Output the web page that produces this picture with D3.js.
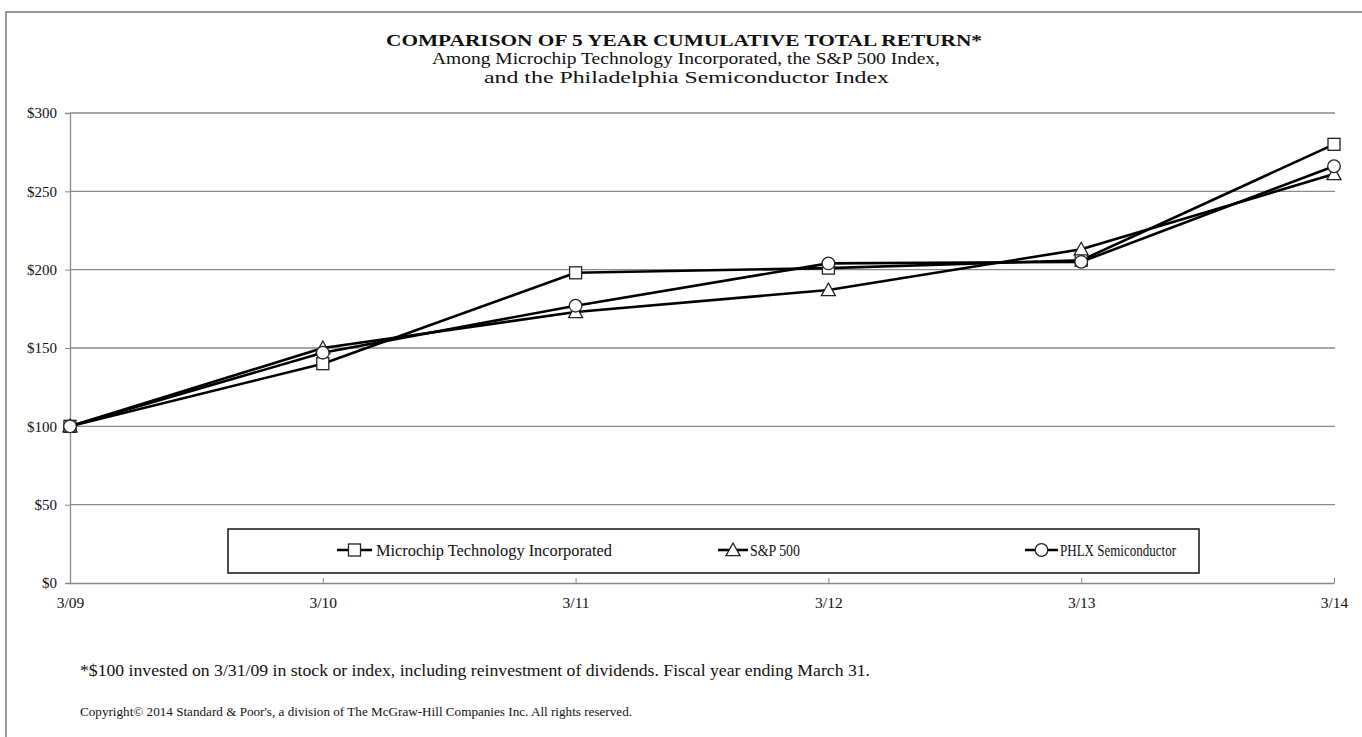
<!DOCTYPE html>
<html>
<head>
<meta charset="utf-8">
<script src="https://cdn.jsdelivr.net/npm/d3@7"></script>
<style>
  html, body { margin: 0; padding: 0; background: #fff; }
  svg { display: block; }
  text { font-family: "Liberation Serif", "Times New Roman", serif; fill: #111; }
</style>
</head>
<body>
<svg id="chart" width="1362" height="737"></svg>
<script>
// ---- data ----
const categories = ["3/09", "3/10", "3/11", "3/12", "3/13", "3/14"];
const microchip = [100, 140, 198, 201, 206, 280];
const sp500     = [100, 150, 173, 187, 213, 261];
const phlx      = [100, 147, 177, 204, 205, 266];
const yTicks = [0, 50, 100, 150, 200, 250, 300];
const seriesNames = ["Microchip Technology Incorporated", "S&P 500", "PHLX Semiconductor"];
const seriesShapes = ["square", "triangle", "circle"];

const series = [
  { name: seriesNames[0], values: microchip, shape: seriesShapes[0] },
  { name: seriesNames[1], values: sp500, shape: seriesShapes[1] },
  { name: seriesNames[2], values: phlx, shape: seriesShapes[2] }
];

const svg = d3.select("#chart");

// outer frame
svg.append("rect").attr("x", 6).attr("y", 12).attr("width", 1400).attr("height", 760)
  .attr("fill", "none").attr("stroke", "#777").attr("stroke-width", 1.5);

function fitText(sel, w) {
  sel.attr("textLength", w).attr("lengthAdjust", "spacingAndGlyphs");
}

// titles
fitText(svg.append("text").attr("x", 386).attr("y", 46)
  .style("font-size", "17.5px").attr("font-weight", "bold")
  .text("COMPARISON OF 5 YEAR CUMULATIVE  TOTAL RETURN*"), 596);
fitText(svg.append("text").attr("x", 432).attr("y", 64)
  .style("font-size", "16px")
  .text("Among Microchip Technology Incorporated, the S&P 500  Index,"), 508);
fitText(svg.append("text").attr("x", 484).attr("y", 83)
  .style("font-size", "16px")
  .text("and the Philadelphia  Semiconductor Index"), 405);

// scales
const x = d3.scalePoint().domain(categories).range([70, 1334]);
const y = d3.scaleLinear().domain([0, 300]).range([583, 113]);

// gridlines
svg.append("g").selectAll("line").data(yTicks.filter(d => d > 0)).join("line")
  .attr("x1", 70).attr("x2", 1335)
  .attr("y1", d => y(d)).attr("y2", d => y(d))
  .attr("stroke", "#8a8a8a").attr("stroke-width", 1.3);

// y axis
const yAxis = svg.append("g").attr("transform", "translate(70,0)")
  .call(d3.axisLeft(y).tickValues(yTicks).tickSize(5).tickPadding(8).tickFormat(d => "$" + d));
yAxis.attr("font-size", null).attr("font-family", null);
yAxis.select(".domain").attr("stroke", "#8a8a8a").attr("stroke-width", 1.3);
yAxis.selectAll(".tick line").attr("stroke", "#8a8a8a");
yAxis.selectAll(".tick text").style("font-size", "15px")
  .style("font-family", "Liberation Serif, serif").attr("fill", "#111");

// x axis (ticks inside)
const xAxis = svg.append("g").attr("transform", "translate(0,583)")
  .call(d3.axisBottom(x).tickSizeInner(-5).tickSizeOuter(0).tickPadding(14));
xAxis.attr("font-size", null).attr("font-family", null);
xAxis.select(".domain").attr("stroke", "#8a8a8a").attr("stroke-width", 1.6);
xAxis.selectAll(".tick line").attr("stroke", "#8a8a8a");
xAxis.selectAll(".tick text").style("font-size", "15.5px")
  .style("font-family", "Liberation Serif, serif").attr("fill", "#111");

// marker drawer
function drawMarker(g, shape, cx, cy) {
  if (shape === "square") {
    g.append("rect").attr("x", cx - 6).attr("y", cy - 6).attr("width", 12).attr("height", 12)
      .attr("fill", "#fff").attr("stroke", "#222").attr("stroke-width", 1.3);
  } else if (shape === "circle") {
    g.append("circle").attr("cx", cx).attr("cy", cy).attr("r", 6.3)
      .attr("fill", "#fff").attr("stroke", "#222").attr("stroke-width", 1.3);
  } else {
    const s = 7;
    g.append("path").attr("d", `M${cx},${cy - s} L${cx + s},${cy + s * 0.8} L${cx - s},${cy + s * 0.8} Z`)
      .attr("fill", "#fff").attr("stroke", "#222").attr("stroke-width", 1.3);
  }
}

// series
const line = d3.line().x((d, i) => x(categories[i])).y(d => y(d));
series.forEach(s => {
  const g = svg.append("g");
  g.append("path").attr("d", line(s.values)).attr("fill", "none")
    .attr("stroke", "#000").attr("stroke-width", 2.6).attr("stroke-linejoin", "round");
  s.values.forEach((v, i) => drawMarker(g, s.shape, x(categories[i]), y(v)));
});

// legend
svg.append("rect").attr("x", 228).attr("y", 529).attr("width", 971).attr("height", 44)
  .attr("fill", "#fff").attr("stroke", "#111").attr("stroke-width", 1.5);
const legendItems = [
  { x0: 337, x1: 372, tx: 376, tw: 236 },
  { x0: 718, x1: 748, tx: 750, tw: 50 },
  { x0: 1025, x1: 1058, tx: 1060, tw: 116 }
];
series.forEach((s, i) => {
  const li = legendItems[i];
  const g = svg.append("g");
  g.append("line").attr("x1", li.x0).attr("x2", li.x1).attr("y1", 550).attr("y2", 550)
    .attr("stroke", "#000").attr("stroke-width", 2.6);
  drawMarker(g, s.shape, (li.x0 + li.x1) / 2, 550);
  fitText(g.append("text").attr("x", li.tx).attr("y", 555.5).style("font-size", "16px").text(s.name), li.tw);
});

// footnotes
fitText(svg.append("text").attr("x", 80).attr("y", 676).style("font-size", "16px")
  .text("*$100  invested on 3/31/09  in stock or index,  including reinvestment of dividends.  Fiscal  year ending March 31."), 790);
fitText(svg.append("text").attr("x", 80).attr("y", 716).style("font-size", "12.5px")
  .text("Copyright\u00A9 2014 Standard & Poor's, a division of The McGraw-Hill Companies Inc. All rights reserved."), 552);
</script>
</body>
</html>
